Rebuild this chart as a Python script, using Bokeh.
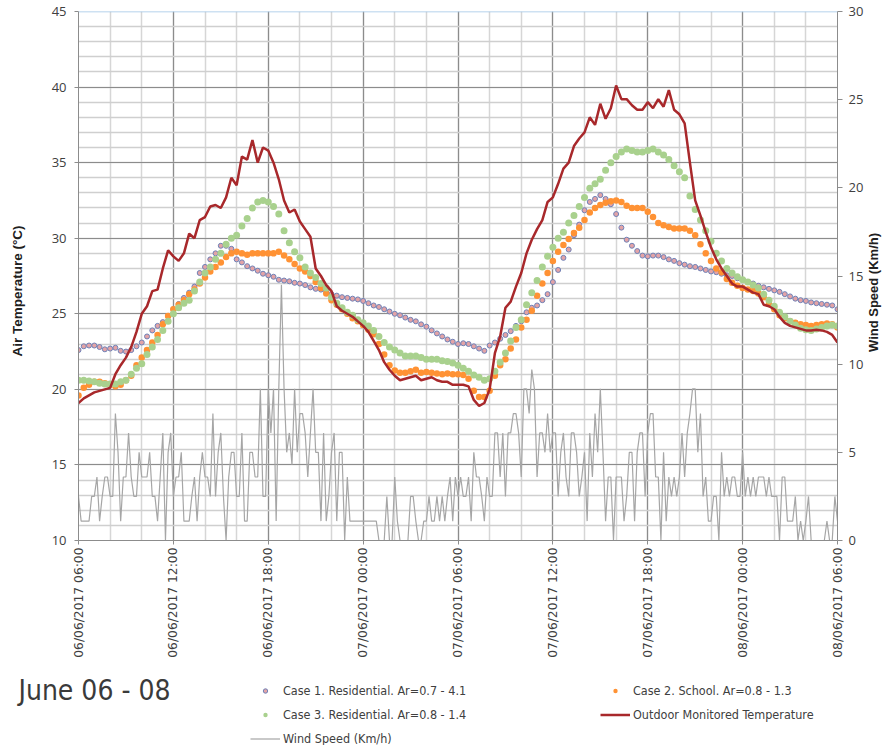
import math
from bokeh.plotting import figure
from bokeh.layouts import column, row
from bokeh.models import (Range1d, LinearAxis, FixedTicker, SingleIntervalTicker,
                          Span, Legend, LegendItem, Label)
from bokeh.embed import file_html
from bokeh.resources import INLINE

# ---------------- data ----------------
tick_hours = [0, 6, 12, 18, 24, 30, 36, 42, 48]
tick_labels = ["06/06/2017 06:00", "06/06/2017 12:00", "06/06/2017 18:00",
               "07/06/2017 00:00", "07/06/2017 06:00", "07/06/2017 12:00",
               "07/06/2017 18:00", "08/06/2017 00:00", "08/06/2017 06:00"]
minor_hours = list(range(0, 49, 2))

temp_step_min = 20   # temperature samples every 20 min from 06/06 06:00
wind_step_min = 10   # wind samples every 10 min

outdoor = [
    19.1, 19.4, 19.6, 19.8, 19.9, 20.0, 20.1, 21.0, 21.6, 22.1, 22.8, 23.8,
    25.0, 25.5, 26.5, 26.6, 28.0, 29.2, 28.8, 28.5, 29.0, 30.3, 30.0, 31.2,
    31.4, 32.1, 32.2, 32.0, 32.7, 34.0, 33.5, 35.4, 35.2, 36.5, 35.0, 36.0,
    35.8, 35.0, 33.9, 32.5, 31.7, 31.9, 31.1, 30.6, 30.1, 28.0, 27.5, 26.9,
    26.5, 25.5, 25.2, 25.0, 24.8, 24.5, 24.2, 23.8, 23.2, 22.6, 21.8, 21.3,
    20.9, 20.6, 20.7, 20.8, 20.9, 20.6, 20.7, 20.8, 20.6, 20.5, 20.5, 20.3,
    20.3, 20.3, 20.2, 19.3, 18.9, 19.1, 20.0, 22.4, 23.5, 25.4, 25.8, 26.8,
    27.7, 29.0, 29.9, 30.6, 31.2, 32.4, 32.7, 33.6, 34.6, 35.0, 36.1, 36.6,
    37.0, 38.0, 37.5, 38.9, 37.9, 38.6, 40.1, 39.2, 39.2, 38.8, 38.5, 38.5,
    39.0, 38.6, 39.2, 38.7, 39.8, 38.5, 38.2, 37.6, 35.0, 32.5, 31.5, 30.4,
    29.4, 28.6, 28.0, 27.5, 27.0, 26.8, 26.8, 26.6, 26.4, 26.3, 25.6, 25.5,
    25.3, 24.8, 24.4, 24.2, 24.1, 24.0, 23.9, 23.9, 23.95, 23.9, 23.8, 23.6,
    23.1]

case1 = [
    22.6, 22.85, 22.9, 22.9, 22.8, 22.65, 22.7, 22.75, 22.55, 22.5, 22.6, 22.85,
    23.1, 23.5, 23.9, 24.2, 24.45, 24.85, 25.3, 25.65, 26.05, 26.4, 26.8, 27.7,
    28.1, 28.6, 29.0, 29.5, 29.5, 29.3, 28.6, 28.4, 28.15, 28.0, 27.85, 27.65,
    27.55, 27.45, 27.25, 27.2, 27.15, 27.05, 27.0, 26.9, 26.75, 26.65, 26.6, 26.5,
    26.3, 26.2, 26.1, 26.05, 26.0, 25.95, 25.85, 25.7, 25.55, 25.45, 25.3, 25.15,
    25.0, 24.9, 24.75, 24.6, 24.5, 24.3, 24.15, 23.9, 23.7, 23.5, 23.3, 23.15,
    23.0, 23.05, 23.0, 22.85, 22.7, 22.55, 22.9, 23.1, 23.35, 23.6, 23.85, 24.2,
    24.5, 25.1, 25.4, 25.55, 25.9, 26.3, 27.1, 27.9, 28.7, 29.25, 30.2, 30.9,
    31.85, 32.4, 32.6, 32.85, 32.6, 32.25, 31.6, 30.7, 29.9, 29.5, 29.15, 28.85,
    28.8, 28.85, 28.85, 28.75, 28.6, 28.5, 28.35, 28.25, 28.15, 28.1, 28.0, 27.9,
    27.8, 27.75, 27.65, 27.55, 27.5, 27.35, 27.25, 27.1, 27.0, 26.85, 26.75, 26.65,
    26.55, 26.45, 26.3, 26.15, 26.0, 25.9, 25.85, 25.75, 25.7, 25.65, 25.6, 25.55,
    25.3]

case2 = [
    19.6, 20.1, 20.3, 20.5, 20.5, 20.4, 20.3, 20.2, 20.3, 20.6, 20.9, 21.6,
    22.1, 22.6, 23.1, 23.6, 24.3, 24.85, 25.3, 25.6, 25.9, 26.3, 26.6, 27.0,
    27.4, 27.8, 28.1, 28.4, 28.75, 29.0, 29.1, 29.0, 28.9, 29.0, 29.0, 29.0,
    29.0, 29.0, 29.1, 28.85, 28.6, 28.3, 28.0, 27.8, 27.5, 27.1, 26.7, 26.35,
    25.9, 25.6, 25.3, 25.0, 24.7, 24.5, 24.25, 23.95, 23.65, 23.0, 22.3, 21.6,
    21.25, 21.1, 21.1, 21.2, 21.3, 21.1, 21.15, 21.1, 21.05, 21.0, 21.05, 21.0,
    21.0, 20.95, 20.7, 19.9, 19.5, 19.5, 19.9, 20.9, 21.6, 22.0, 22.7, 23.3,
    24.1, 24.6, 25.2, 26.2, 27.0, 27.7, 28.5, 29.1, 29.55, 29.95, 30.35, 30.7,
    31.2, 31.7, 32.0, 32.2, 32.35, 32.45, 32.5, 32.4, 32.15, 32.0, 32.0, 32.0,
    31.75, 31.4, 31.0, 30.85, 30.75, 30.65, 30.65, 30.65, 30.5, 30.2, 29.6, 29.0,
    28.5, 28.0, 27.75, 27.3, 27.05, 26.85, 26.7, 26.6, 26.5, 26.35, 26.1, 25.65,
    25.3, 24.9, 24.7, 24.5, 24.4, 24.3, 24.25, 24.2, 24.25, 24.3, 24.35, 24.3,
    24.1]

case3 = [
    20.6, 20.6, 20.55, 20.5, 20.4, 20.35, 20.35, 20.35, 20.5, 20.6, 21.0, 21.4,
    21.7, 22.3, 22.8, 23.3, 23.9, 24.5, 25.0, 25.4, 25.7, 25.9, 26.5, 27.1,
    27.7, 28.1, 28.6, 29.0, 29.6, 30.0, 30.2, 30.8, 31.3, 32.0, 32.4, 32.5,
    32.4, 32.1, 31.6, 30.5, 29.7, 29.1, 28.7, 28.1, 27.7, 27.4, 27.0, 26.7,
    26.1, 25.7, 25.4, 25.1, 24.9, 24.6, 24.4, 24.2, 23.9, 23.5, 23.1, 22.8,
    22.6, 22.4, 22.2, 22.2, 22.2, 22.1, 22.0, 22.0, 22.0, 21.9, 21.85, 21.75,
    21.6, 21.4, 21.2, 20.95, 20.8, 20.6, 20.7, 21.2, 21.8, 22.4, 23.2, 24.1,
    24.6, 25.6, 26.4, 27.2, 28.1, 28.8, 29.4, 30.0, 30.4, 31.0, 31.5, 32.1,
    32.7, 33.3, 33.6, 33.9, 34.5, 35.0, 35.4, 35.7, 35.9, 35.8, 35.7, 35.7,
    35.8, 35.9, 35.7, 35.5, 35.2, 34.8, 34.4, 34.0, 32.8, 31.9, 31.2, 30.5,
    29.8, 29.0, 28.5, 28.0, 27.7, 27.45, 27.25, 27.1, 26.9, 26.7, 26.3, 25.9,
    25.5, 25.1, 24.8, 24.5, 24.25, 24.05, 23.95, 23.9, 24.0, 24.1, 24.2, 24.25,
    24.2]

wind = [
    2.5, 1.1, 1.1, 1.1, 1.1, 2.5,   2.5, 3.6, 1.1, 2.5, 3.6, 3.6,
    2.5, 2.5, 7.2, 5.0, 1.1, 3.6,   3.6, 6.1, 3.6, 2.5, 2.5, 5.0,
    3.6, 3.6, 3.6, 5.0, 2.5, 2.5,   1.1, 3.6, 6.1, 0.0, 5.0, 6.1,
    2.5, 3.6, 3.6, 5.0, 1.1, 1.1,   1.1, 2.5, 3.6, 1.1, 3.6, 5.0,
    3.6, 3.6, 2.5, 7.2, 2.5, 5.0,   6.1, 2.5, 0.0, 3.6, 5.0, 5.0,
    2.5, 2.5, 6.1, 1.1, 1.1, 5.0,   5.0, 3.6, 3.6, 8.6, 2.5, 2.5,
    8.6, 6.1, 8.6, 1.1, 8.6, 14.5,  8.6, 5.0, 6.1, 4.3, 8.6, 5.0,
    7.2, 7.2, 6.1, 3.6, 6.1, 8.6,   5.0, 5.0, 1.1, 6.1, 1.1, 2.5,
    5.0, 6.1, 1.1, 5.0, 5.0, 0.0,   3.6, 1.1, 1.1, 1.1, 1.1, 1.1,
    1.1, 1.1, 1.1, 1.1, 1.1, 1.1,   0.0, 0.0, 0.0, 2.5, 0.0, 0.0,
    3.6, 1.1, 0.0, 0.0, 0.0, 0.0,   2.5, 2.5, 1.1, 0.0, 0.0, 1.1,
    1.1, 2.5, 1.1, 1.1, 2.5, 1.1,   2.5, 1.1, 2.5, 3.6, 1.1, 3.6,
    2.5, 3.6, 2.5, 2.5, 3.6, 1.1,   5.0, 3.6, 3.6, 2.5, 1.1, 3.6,
    2.5, 2.5, 6.1, 6.1, 3.6, 6.1,   2.5, 6.1, 6.1, 7.2, 7.2, 6.1,
    3.6, 8.6, 8.6, 7.2, 9.7, 8.6,   3.6, 6.1, 6.1, 5.0, 7.2, 5.0,
    6.1, 6.1, 2.5, 5.0, 6.1, 3.6,   2.5, 6.1, 6.1, 5.0, 2.5, 3.6,
    5.0, 1.1, 6.1, 3.6, 7.2, 5.0,   8.6, 5.0, 1.1, 3.6, 3.6, 0.0,
    3.6, 3.6, 3.6, 1.1, 2.5, 5.0,   5.0, 1.1, 5.0, 6.1, 6.1, 2.5,
    6.1, 7.2, 7.2, 3.6, 3.6, 0.0,   5.0, 1.1, 3.6, 2.5, 3.6, 2.5,
    3.6, 6.1, 3.6, 6.1, 7.2, 8.6,   8.6, 5.0, 7.2, 2.5, 3.6, 1.1,
    1.1, 2.5, 2.5, 0.0, 5.0, 2.5,   3.6, 2.5, 3.6, 3.6, 2.5, 2.5,
    5.0, 2.5, 3.6, 2.5, 3.6, 2.5,   3.6, 3.6, 3.6, 2.5, 3.6, 2.5,
    2.5, 2.5, 0.0, 3.6, 3.6, 1.1,   1.1, 1.1, 2.5, 0.0, 1.1, 0.0,
    1.1, 2.5, 0.0, 0.0, 0.0, 0.0,   0.0, 0.0, 1.1, 0.0, 0.0, 2.5,
    1.1]

series_names = ["Case 1. Residential. Ar=0.7 - 4.1",
                "Case 2. School. Ar=0.8 - 1.3",
                "Case 3. Residential. Ar=0.8 - 1.4",
                "Outdoor Monitored Temperature",
                "Wind Speed (Km/h)"]
period_title = "June 06 - 08"
left_title = "Air Temperature (°C)"
right_title = "Wind Speed (Km/h)"

# sample times in hours since 06/06/2017 06:00
t_temp = [i * temp_step_min / 60 for i in range(len(outdoor))]
t_wind = [i * wind_step_min / 60 for i in range(len(wind))]

# ---------------- styles ----------------
C1 = dict(marker="circle", size=5, fill_color="#e3a3a6", line_color="#6f82b8", line_width=1)
C2 = dict(marker="circle", size=6.5, fill_color="#ff9234", line_color=None)
C3 = dict(marker="circle", size=7, fill_color="#a9d18e", line_color=None)
OUT = dict(line_color="#a8282b", line_width=2.5)
WND = dict(line_color="#a6a6a6", line_width=1.2)
NBSP = "\u00a0"
NARROW = "'DejaVu Sans Condensed', 'DejaVu Sans', sans-serif"


def no_align(fig):
    try:
        fig.frame_align = False
    except Exception:
        pass


def bare(fig):
    no_align(fig)
    fig.grid.visible = False
    fig.outline_line_color = None
    fig.background_fill_color = "white"
    fig.border_fill_color = "white"


# ---------------- main figure ----------------
p = figure(width=866, height=660, output_backend="svg", toolbar_location=None,
           x_range=Range1d(0, 48), y_range=Range1d(10, 45),
           min_border_left=78, min_border_right=28, min_border_top=11,
           min_border_bottom=115)
no_align(p)
p.outline_line_color = None
p.background_fill_color = "white"
p.border_fill_color = "white"

p.extra_y_ranges = {"wind": Range1d(0, 30)}

xticker = FixedTicker(ticks=tick_hours, minor_ticks=minor_hours)
yticker = SingleIntervalTicker(interval=5, num_minor_ticks=5)

p.xgrid.ticker = xticker
p.xgrid.grid_line_color = "#8c8c8c"
p.xgrid.grid_line_width = 1.2
p.xgrid.minor_grid_line_color = "#d6d6d6"
p.xgrid.minor_grid_line_width = 1.5
p.ygrid.ticker = yticker
p.ygrid.grid_line_color = "#8c8c8c"
p.ygrid.grid_line_width = 1.2
p.ygrid.minor_grid_line_color = "#cfcfcf"
p.ygrid.minor_grid_line_width = 1.5

xa = p.xaxis[0]
xa.ticker = xticker
xa.major_label_overrides = {h: lbl for h, lbl in zip(tick_hours, tick_labels)}
xa.major_label_orientation = math.pi / 2
xa.major_label_text_font = "DejaVu Sans"
xa.major_label_text_font_size = "12.3px"
xa.major_label_text_color = "#404040"
xa.major_label_standoff = 3
xa.axis_line_color = "#8c8c8c"
xa.major_tick_line_color = "#8c8c8c"
xa.major_tick_out = 4
xa.major_tick_in = 0
xa.minor_tick_line_color = None

ya = p.yaxis[0]
ya.ticker = SingleIntervalTicker(interval=5)
ya.axis_label = left_title + NBSP * 8
ya.axis_label_text_font = "Liberation Sans"
ya.axis_label_text_font_style = "bold"
ya.axis_label_text_font_size = "13.5px"
ya.axis_label_text_color = "#202020"
ya.axis_label_standoff = 24
ya.major_label_text_font = "Open Sans"
ya.major_label_text_font_size = "13px"
ya.major_label_text_color = "#404040"
ya.major_label_standoff = 8
ya.axis_line_color = "#8c8c8c"
ya.major_tick_line_color = "#8c8c8c"
ya.major_tick_out = 4
ya.major_tick_in = 0
ya.minor_tick_line_color = None

ra = LinearAxis(y_range_name="wind", ticker=SingleIntervalTicker(interval=5))
ra.major_label_text_font = "Open Sans"
ra.major_label_text_font_size = "13px"
ra.major_label_text_color = "#404040"
ra.major_label_standoff = 6
ra.axis_line_color = "#8c8c8c"
ra.major_tick_line_color = "#8c8c8c"
ra.major_tick_out = 5
ra.major_tick_in = 0
ra.minor_tick_line_color = None
p.add_layout(ra, "right")

p.add_layout(Span(location=45, dimension="width", line_color="#9dc3e6", line_width=1.5))

p.line(t_wind, wind, y_range_name="wind", **WND)
p.scatter(t_temp, case1, **C1)
p.scatter(t_temp, case2, **C2)
p.scatter(t_temp, case3, **C3)
p.line(t_temp, outdoor, **OUT)

# ---------------- right axis title strip ----------------
r = figure(width=19, height=660, output_backend="svg", toolbar_location=None,
           x_range=Range1d(0, 19), y_range=Range1d(0, 660),
           x_axis_location=None, y_axis_location=None,
           min_border_left=0, min_border_right=0, min_border_top=0,
           min_border_bottom=0)
bare(r)
r.add_layout(Label(x=6.5, y=368, text=right_title, angle=math.pi / 2,
                   text_font="Liberation Sans", text_font_style="bold",
                   text_font_size="13px", text_color="#202020",
                   text_align="center", text_baseline="middle"))

# ---------------- legend strip ----------------
q = figure(width=885, height=85, output_backend="svg", toolbar_location=None,
           x_range=Range1d(0, 885), y_range=Range1d(0, 85),
           x_axis_location=None, y_axis_location=None,
           min_border_left=0, min_border_right=0, min_border_top=0,
           min_border_bottom=0)
bare(q)

# hidden copies of the series, only used to draw the legend keys
k1 = q.scatter(t_temp, case1, visible=False, **C1)
k2 = q.scatter(t_temp, case2, visible=False, **C2)
k3 = q.scatter(t_temp, case3, visible=False, **C3)
k4 = q.line(t_temp, outdoor, visible=False, **OUT)
k5 = q.line(t_wind, wind, visible=False, **WND)

legend = Legend(items=[
    LegendItem(label=series_names[0], renderers=[k1]),
    LegendItem(label=series_names[1], renderers=[k2]),
    LegendItem(label=series_names[2], renderers=[k3]),
    LegendItem(label=series_names[3], renderers=[k4]),
    LegendItem(label=series_names[4], renderers=[k5]),
], orientation="horizontal", ncols=2)
legend.label_text_font = NARROW
legend.label_text_font_size = "12.5px"
legend.label_text_color = "#404040"
legend.glyph_width = 30
legend.glyph_height = 11
legend.label_height = 18
legend.label_width = 311
legend.label_standoff = 3
legend.spacing = 6
legend.padding = 0
legend.margin = 0
legend.border_line_color = None
legend.background_fill_alpha = 0
legend.inactive_fill_alpha = 0
legend.location = (250, -2)
q.add_layout(legend)

q.add_layout(Label(x=18, y=55, text=period_title,
                   text_font=NARROW, text_font_size="28px",
                   text_color="#3a3a3a", text_baseline="middle"))

layout = column(row(p, r, spacing=0), q, spacing=0)
open("out.html", "w").write(file_html(layout, INLINE))
